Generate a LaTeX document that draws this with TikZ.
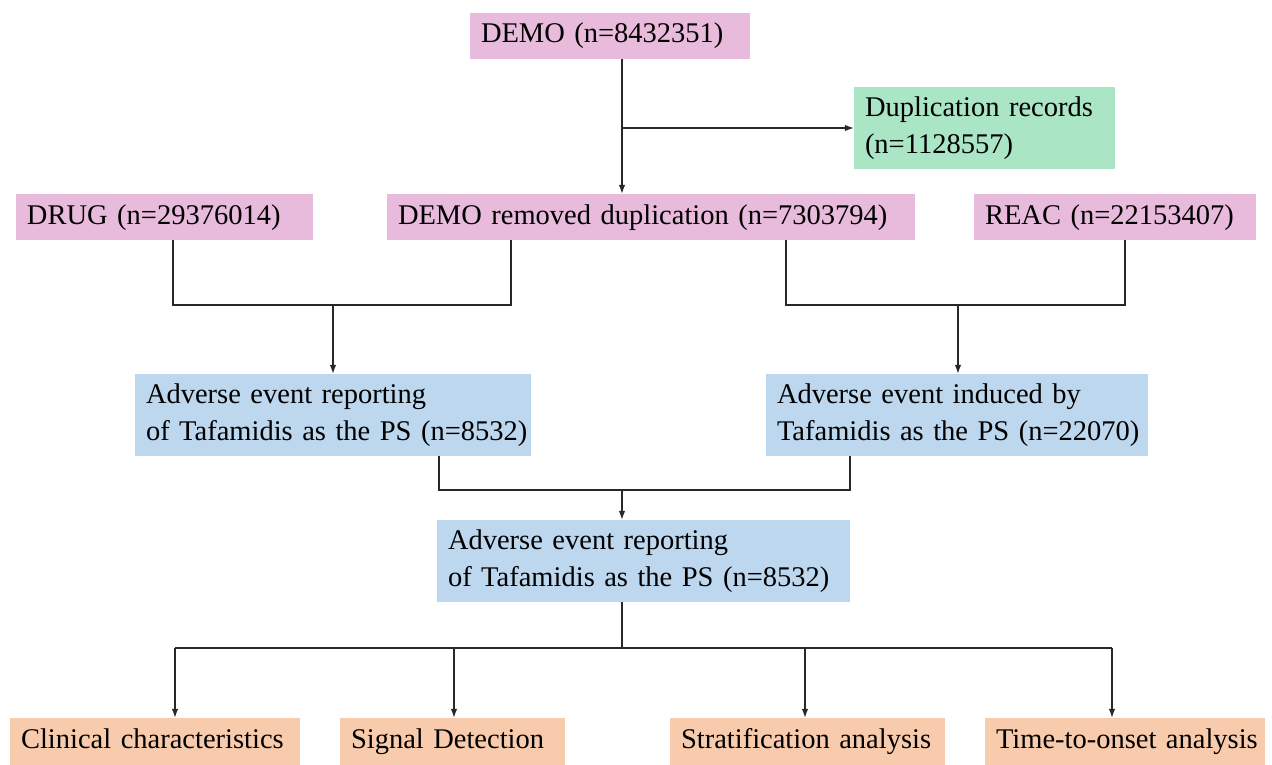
\documentclass[tikz,border=0pt]{standalone}
\usepackage{fontspec}
\setmainfont{Liberation Serif}
\usetikzlibrary{arrows.meta}
\definecolor{pinkbox}{RGB}{232,186,220}
\definecolor{greenbox}{RGB}{170,229,198}
\definecolor{bluebox}{RGB}{189,215,238}
\definecolor{orangebox}{RGB}{248,203,173}
\definecolor{linec}{RGB}{40,40,40}
\begin{document}
\begin{tikzpicture}[x=1pt,y=-1pt,
  box/.style={rectangle, draw=none, inner xsep=11pt, inner ysep=0pt, align=left,
    font=\fontsize{28.5}{37}\selectfont, text=black},
  pinkb/.style={box, fill=pinkbox, minimum height=46pt, text height=20pt, text depth=6pt},
  greenb/.style={box, fill=greenbox, minimum height=82pt},
  blueb/.style={box, fill=bluebox, minimum height=82pt},
  orangeb/.style={box, fill=orangebox, minimum height=47pt, text height=20pt, text depth=6pt},
  conn/.style={draw=linec, line width=1.2pt},
  arr/.style={conn, -{Latex[length=9pt,width=6.5pt]}}
]
\useasboundingbox[fill=white] (0,0) rectangle (1272,765);

\node[pinkb, minimum width=280pt, text width=258pt] (demo) at (610,36) {\mbox{DEMO (n=8432351)}};
\node[greenb, minimum width=261pt, text width=239pt] (dup) at (984.5,128) {\mbox{Duplication records}\\\mbox{(n=1128557)}};
\node[pinkb, minimum width=297pt, text width=275pt] (drug) at (164.5,217) {\mbox{DRUG (n=29376014)}};
\node[pinkb, minimum width=528pt, text width=506pt] (dedup) at (651,217) {\mbox{DEMO removed duplication (n=7303794)}};
\node[pinkb, minimum width=282pt, text width=260pt] (reac) at (1115,217) {\mbox{REAC (n=22153407)}};

\node[blueb, minimum width=396pt, text width=374pt] (advL) at (333,415) {\mbox{Adverse event reporting}\\\mbox{of Tafamidis as the PS (n=8532)}};
\node[blueb, minimum width=382pt, text width=360pt] (advR) at (957,415) {\mbox{Adverse event induced by}\\\mbox{Tafamidis as the PS (n=22070)}};
\node[blueb, minimum width=413pt, text width=391pt] (advM) at (643.5,561) {\mbox{Adverse event reporting}\\\mbox{of Tafamidis as the PS (n=8532)}};

\node[orangeb, minimum width=290pt, text width=268pt] (clin) at (155,741.5) {\mbox{Clinical characteristics}};
\node[orangeb, minimum width=225pt, text width=203pt] (sig) at (452.5,741.5) {\mbox{Signal Detection}};
\node[orangeb, minimum width=275pt, text width=253pt] (strat) at (807.5,741.5) {\mbox{Stratification analysis}};
\node[orangeb, minimum width=280pt, text width=258pt] (tto) at (1125,741.5) {\mbox{Time-to-onset analysis}};

% DEMO -> dedup, branch to duplication records
\draw[arr] (622,0 |- demo.south) -- (622,0 |- dedup.north);
\draw[arr] (dup.west -| 622,0) -- (dup.west);

% DRUG + dedup -> left adverse
\coordinate (j1) at (333,305);
\draw[conn] (173,0 |- drug.south) -- (173,305) -- (511,305) -- (511,0 |- dedup.south);
\draw[arr] (j1) -- (j1 |- advL.north);

% dedup + REAC -> right adverse
\coordinate (j2) at (958,305);
\draw[conn] (786,0 |- dedup.south) -- (786,305) -- (1125,305) -- (1125,0 |- reac.south);
\draw[arr] (j2) -- (j2 |- advR.north);

% left + right -> middle
\coordinate (j3) at (622,490);
\draw[conn] (439,0 |- advL.south) -- (439,490) -- (850,490) -- (850,0 |- advR.south);
\draw[arr] (j3) -- (j3 |- advM.north);

% middle -> four analyses
\coordinate (j4) at (622,648);
\draw[conn] (622,0 |- advM.south) -- (j4);
\draw[conn] (175,648) -- (1112,648);
\draw[arr] (175,648) -- (175,0 |- clin.north);
\draw[arr] (454,648) -- (454,0 |- sig.north);
\draw[arr] (805,648) -- (805,0 |- strat.north);
\draw[arr] (1112,648) -- (1112,0 |- tto.north);
\end{tikzpicture}
\end{document}
